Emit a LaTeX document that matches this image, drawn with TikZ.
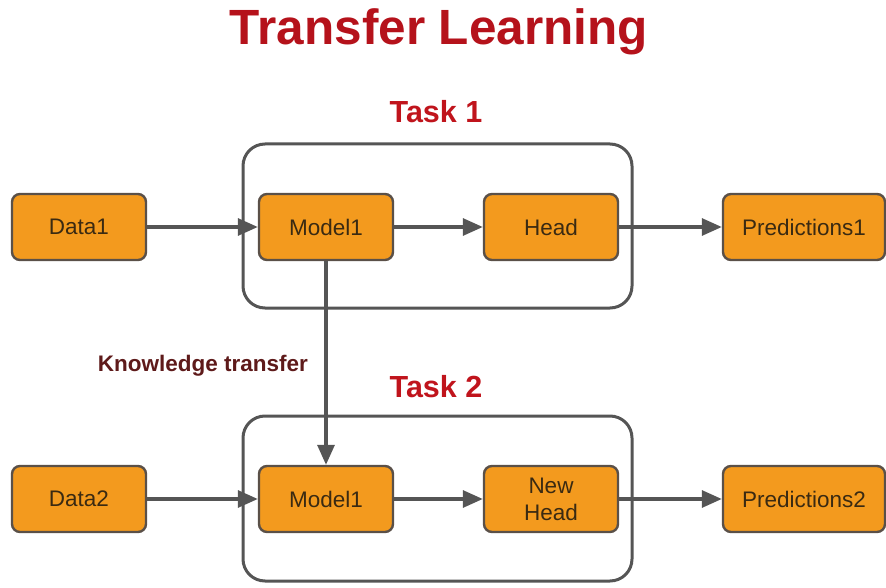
\documentclass[tikz,border=0pt]{standalone}
\usepackage{fontspec}
\setmainfont{Liberation Sans}
\usetikzlibrary{arrows.meta}
\definecolor{boxfill}{HTML}{F39A1E}
\definecolor{boxline}{HTML}{5A5048}
\definecolor{txtdark}{HTML}{3A2A12}
\definecolor{linegray}{HTML}{555555}
\definecolor{titlered}{HTML}{B5121B}
\definecolor{taskred}{HTML}{C0141C}
\definecolor{maroon}{HTML}{5E1A1A}
\tikzset{
  procbox/.style={draw=boxline, fill=boxfill, line width=2.4pt, rounded corners=8pt,
    minimum width=134pt, minimum height=66pt, inner sep=0pt, align=center,
    text=txtdark, font=\fontsize{22.5}{26}\selectfont},
  container/.style={draw=linegray, line width=3pt, rounded corners=22pt},
  flow/.style={draw=linegray, line width=3.2pt, -{Triangle[length=20pt,width=17pt]}},
  tasklabel/.style={text=taskred, font=\bfseries\fontsize{30.5}{34}\selectfont, inner sep=0pt},
}
\begin{document}
\begin{tikzpicture}[x=1pt,y=-1pt]
\useasboundingbox (0,0) rectangle (886,588);
\node[text=titlered, font=\bfseries\fontsize{49.5}{54}\selectfont, inner sep=0pt] (title) at (439,32) {Transfer Learning};
% containers
\draw[container] (243,144) rectangle (632,308);
\draw[container] (243,416) rectangle (632,581);
\node[tasklabel] (t1) at (436,112) {Task 1};
\node[tasklabel] (t2) at (436,387) {Task 2};
% row 1
\node[procbox] (d1) at (79,227) {Data1};
\node[procbox] (m1) at (326,227) {Model1};
\node[procbox] (h1) at (551,227) {Head};
\node[procbox, minimum width=162pt] (p1) at (804,227) {Predictions1};
% row 2
\node[procbox] (d2) at (79,499) {Data2};
\node[procbox] (m2) at (326,499) {Model1};
\node[procbox] (h2) at (551,499) {New\\[1pt]Head};
\node[procbox, minimum width=162pt] (p2) at (804,499) {Predictions2};
% arrows
\draw[flow] (d1) -- (m1);
\draw[flow] (m1) -- (h1);
\draw[flow] (h1) -- (p1);
\draw[flow] (d2) -- (m2);
\draw[flow] (m2) -- (h2);
\draw[flow] (h2) -- (p2);
\draw[flow] (m1) -- (m2);
\node[text=maroon, font=\bfseries\fontsize{22.5}{26}\selectfont, inner sep=0pt] (kt) at (203,366) {Knowledge transfer};
\end{tikzpicture}
\end{document}
